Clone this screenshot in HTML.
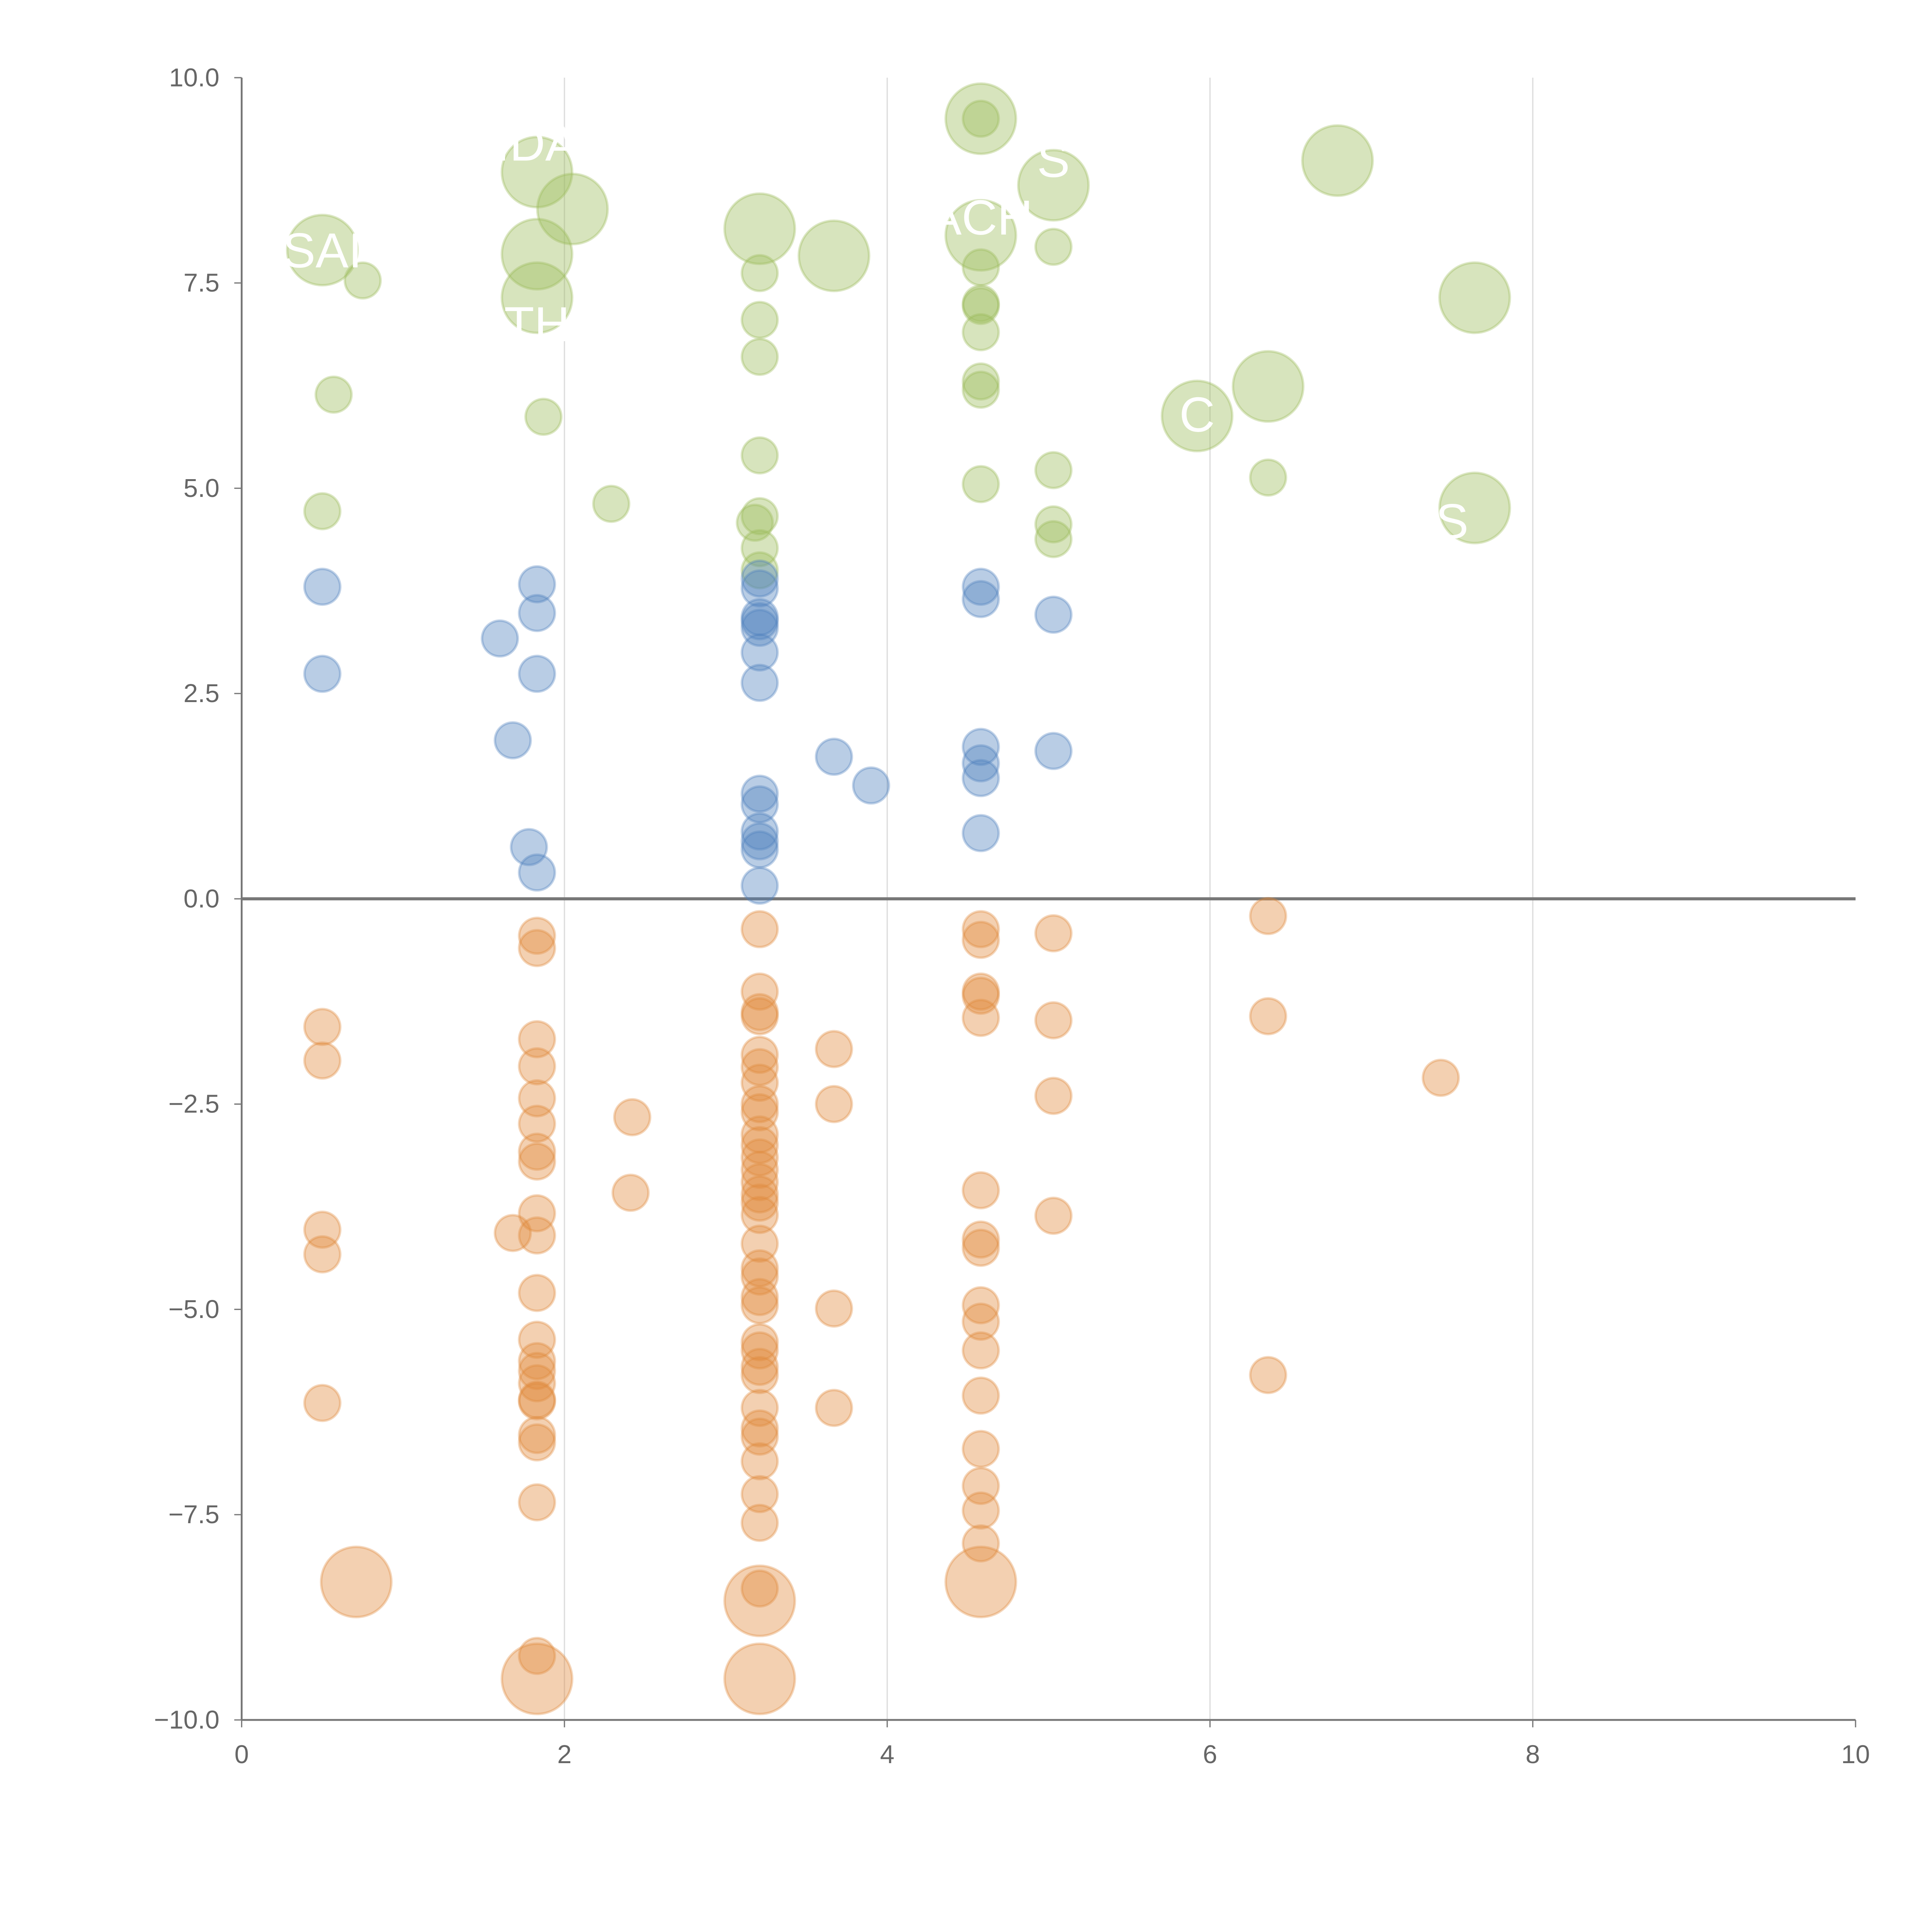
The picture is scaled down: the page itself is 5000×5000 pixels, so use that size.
<!DOCTYPE html>
<html><head><meta charset="utf-8"><style>
html,body{margin:0;padding:0;background:#fff}
svg{display:block}
text{font-family:"Liberation Sans",Arial,sans-serif}
</style></head><body>
<svg id="chart" width="5000" height="5000" viewBox="0 0 1567 1567" xmlns="http://www.w3.org/2000/svg">
<g id="grid"></g>
<g id="axes"></g>
<g id="marks"></g>
<g id="labels"></g>
</svg>
<script>
const xTicks=[0,2,4,6,8,10];
const yTicks=[10,7.5,5,2.5,0,-2.5,-5,-7.5,-10];
const yTickLabels=["10.0","7.5","5.0","2.5","0.0","\u22122.5","\u22125.0","\u22127.5","\u221210.0"];
// [x, y, big(1)/small(0)]
const greenPts=[[0.5,7.9,1],[0.75,7.53,0],[0.57,6.14,0],[0.5,4.72,0],[1.83,8.85,1],[2.05,8.4,1],[1.83,7.85,1],[1.83,7.32,1],[1.87,5.87,0],[2.29,4.81,0],[3.21,8.16,1],[3.67,7.83,1],[3.21,7.62,0],[3.21,7.05,0],[3.21,6.6,0],[3.21,5.4,0],[3.21,4.66,0],[3.18,4.58,0],[3.21,4.27,0],[3.21,4.0,0],[4.58,9.5,1],[4.58,9.5,0],[4.58,8.08,1],[4.58,7.69,0],[4.58,7.25,0],[4.58,7.22,0],[4.58,6.9,0],[4.58,6.3,0],[4.58,6.2,0],[4.58,5.05,0],[5.03,8.69,1],[5.03,7.94,0],[5.03,5.22,0],[5.03,4.56,0],[5.03,4.38,0],[6.79,8.99,1],[7.64,7.32,1],[5.92,5.88,1],[6.36,6.24,1],[6.36,5.13,0],[7.64,4.76,1]];
const bluePts=[[0.5,3.8,0],[0.5,2.74,0],[1.6,3.17,0],[1.83,3.83,0],[1.83,3.48,0],[1.83,2.74,0],[1.68,1.93,0],[1.78,0.63,0],[1.83,0.32,0],[3.21,3.9,0],[3.21,3.78,0],[3.21,3.43,0],[3.21,3.38,0],[3.21,3.3,0],[3.21,3.0,0],[3.21,2.63,0],[3.21,1.28,0],[3.21,1.15,0],[3.21,0.82,0],[3.21,0.7,0],[3.21,0.6,0],[3.21,0.16,0],[3.67,1.73,0],[3.9,1.38,0],[4.58,3.8,0],[4.58,3.65,0],[4.58,1.85,0],[4.58,1.65,0],[4.58,1.47,0],[4.58,0.8,0],[5.03,3.46,0],[5.03,1.8,0]];
const orangePts=[[0.5,-1.56,0],[0.5,-1.97,0],[0.5,-4.03,0],[0.5,-4.33,0],[0.5,-6.14,0],[0.71,-8.32,1],
[1.83,-0.45,0],[1.83,-0.6,0],[1.83,-1.71,0],[1.83,-2.04,0],[1.83,-2.43,0],[1.83,-2.74,0],[1.83,-3.08,0],[1.83,-3.2,0],[1.83,-3.83,0],[1.83,-4.1,0],[1.83,-4.8,0],[1.83,-5.37,0],[1.83,-5.63,0],[1.83,-5.75,0],[1.83,-5.9,0],[1.83,-6.1,0],[1.83,-6.12,0],[1.83,-6.53,0],[1.83,-6.62,0],[1.83,-7.35,0],[1.83,-9.22,0],[1.68,-4.07,0],[1.83,-9.5,1],[2.42,-2.66,0],[2.41,-3.58,0],
[3.21,-0.37,0],[3.21,-1.13,0],[3.21,-1.38,0],[3.21,-1.43,0],[3.21,-1.9,0],[3.21,-2.05,0],[3.21,-2.24,0],[3.21,-2.5,0],[3.21,-2.6,0],[3.21,-2.87,0],[3.21,-3.0,0],[3.21,-3.15,0],[3.21,-3.3,0],[3.21,-3.45,0],[3.21,-3.6,0],[3.21,-3.7,0],[3.21,-3.85,0],[3.21,-4.2,0],[3.21,-4.5,0],[3.21,-4.6,0],[3.21,-4.85,0],[3.21,-4.95,0],[3.21,-5.4,0],[3.21,-5.5,0],[3.21,-5.7,0],[3.21,-5.8,0],[3.21,-6.2,0],[3.21,-6.45,0],[3.21,-6.55,0],[3.21,-6.85,0],[3.21,-7.25,0],[3.21,-7.6,0],[3.21,-8.4,0],[3.21,-8.55,1],[3.21,-9.5,1],
[3.67,-1.83,0],[3.67,-2.5,0],[3.67,-4.99,0],[3.67,-6.2,0],
[4.58,-0.37,0],[4.58,-0.5,0],[4.58,-1.13,0],[4.58,-1.18,0],[4.58,-1.45,0],[4.58,-3.55,0],[4.58,-4.15,0],[4.58,-4.25,0],[4.58,-4.95,0],[4.58,-5.15,0],[4.58,-5.5,0],[4.58,-6.05,0],[4.58,-6.7,0],[4.58,-7.15,0],[4.58,-7.45,0],[4.58,-7.85,0],[4.58,-8.32,1],
[5.03,-0.42,0],[5.03,-1.48,0],[5.03,-2.4,0],[5.03,-3.86,0],[6.36,-0.21,0],[6.36,-1.43,0],[6.36,-5.8,0],[7.43,-2.18,0]];
const labelTexts=["SAI","IDA","ACH","C","S","S","TH"];
const labelPos=[[0.5,7.9],[1.83,9.2],[4.58,8.3],[5.92,5.9],[5.03,9.0],[7.5,4.6],[1.83,7.0]];

const NS="http://www.w3.org/2000/svg";
const X0=196,X1=1505,Y0=1395,Y1=63;
const sx=v=>X0+(v-0)/(10-0)*(X1-X0);
const sy=v=>Y0-(v+10)/20*(Y0-Y1);
function mk(tag,attrs,parent){const e=document.createElementNS(NS,tag);for(const k in attrs)e.setAttribute(k,attrs[k]);parent.appendChild(e);return e;}
const grid=document.getElementById('grid'),axes=document.getElementById('axes'),marks=document.getElementById('marks'),labels=document.getElementById('labels');
xTicks.forEach(t=>{
  if(t>0&&t<10){const l=mk('line',{x1:sx(t),x2:sx(t),y1:Y1,y2:Y0,stroke:'#dcdcdc','stroke-width':1},grid);
  
  }
  const tk=mk('line',{x1:sx(t),x2:sx(t),y1:Y0,y2:Y0+6,stroke:'#777','stroke-width':1},axes);
  
  
  const tx=mk('text',{x:sx(t),y:Y0+35,'text-anchor':'middle','font-size':21,fill:'#666'},axes);tx.textContent=t;
  
  
});
yTicks.forEach((t,i)=>{
  const tk=mk('line',{x1:X0-6,x2:X0,y1:sy(t),y2:sy(t),stroke:'#777','stroke-width':1},axes);
  
  
  const tx=mk('text',{x:X0-18,y:sy(t)+7,'text-anchor':'end','font-size':21,fill:'#666'},axes);tx.textContent=yTickLabels[i];
  
  
});
const ya=mk('line',{x1:X0,x2:X0,y1:Y1,y2:Y0,stroke:'#777','stroke-width':1.5},axes);


const xa=mk('line',{x1:X0,x2:X1,y1:Y0,y2:Y0,stroke:'#777','stroke-width':1.5},axes);


const zl=mk('line',{x1:X0,x2:X1,y1:sy(0),y2:sy(0),stroke:'#777','stroke-width':2.5},axes);


function series(pts,col,name){
  pts.forEach(p=>{
    const c=mk('circle',{cx:sx(p[0]),cy:sy(p[1]),r:p[2]?28.5:14.5,fill:col,'fill-opacity':0.4,stroke:col,'stroke-opacity':0.35,'stroke-width':2},marks);
    
    
  });
}
series(greenPts,'#9bbb59','green-bubble');
series(bluePts,'#4f81bd','blue-bubble');
series(orangePts,'#e08a3c','orange-bubble');
labelTexts.forEach((s,i)=>{
  const t=mk('text',{x:sx(labelPos[i][0]),y:sy(labelPos[i][1])+14,'text-anchor':'middle','font-size':40,fill:'#fff'},labels);t.textContent=s;
  
  
});
</script>
</body></html>
